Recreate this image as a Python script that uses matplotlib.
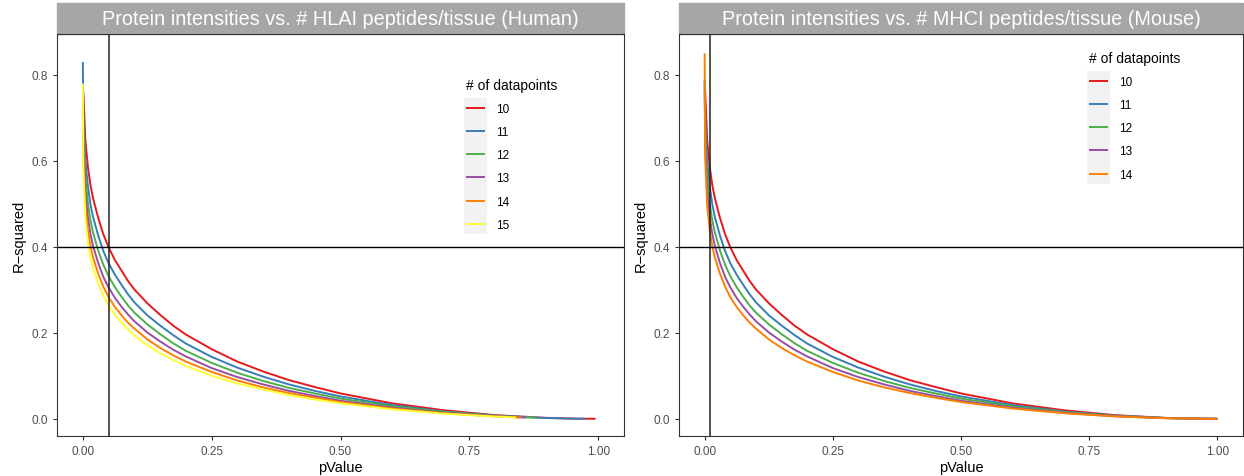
import matplotlib
matplotlib.use("Agg")
import matplotlib.pyplot as plt
from matplotlib.patches import Rectangle

plt.rcParams['font.family'] = ['Liberation Sans', 'DejaVu Sans']

# pValue grid shared by all curves
p_grid = [0.001, 0.005, 0.01, 0.015, 0.02, 0.03, 0.04, 0.05, 0.0625, 0.075, 0.0875,
          0.1, 0.125, 0.15, 0.175, 0.2, 0.25, 0.3, 0.35, 0.4, 0.45, 0.5, 0.6, 0.7,
          0.8, 0.9, 0.95, 1.0]

# R-squared per number of datapoints at p_grid
r2_10 = [0.760, 0.648, 0.585, 0.543, 0.513, 0.467, 0.429, 0.399, 0.369, 0.345, 0.321,
         0.301, 0.269, 0.242, 0.217, 0.196, 0.162, 0.133, 0.110, 0.090, 0.074, 0.059,
         0.036, 0.020, 0.0085, 0.0021, 0.0005, 0.0]
r2_11 = [0.717, 0.602, 0.540, 0.498, 0.469, 0.426, 0.390, 0.362, 0.335, 0.312, 0.290,
         0.271, 0.241, 0.217, 0.195, 0.175, 0.144, 0.119, 0.098, 0.080, 0.065, 0.052,
         0.032, 0.017, 0.0075, 0.0018, 0.0005, 0.0]
r2_12 = [0.677, 0.562, 0.501, 0.461, 0.433, 0.391, 0.358, 0.332, 0.306, 0.284, 0.264,
         0.247, 0.220, 0.197, 0.176, 0.158, 0.130, 0.107, 0.088, 0.072, 0.059, 0.047,
         0.029, 0.016, 0.0067, 0.0017, 0.0004, 0.0]
r2_13 = [0.642, 0.527, 0.468, 0.429, 0.402, 0.362, 0.330, 0.306, 0.281, 0.261, 0.243,
         0.227, 0.201, 0.180, 0.161, 0.145, 0.118, 0.097, 0.080, 0.065, 0.053, 0.042,
         0.026, 0.014, 0.0061, 0.0015, 0.0004, 0.0]
r2_14 = [0.608, 0.495, 0.437, 0.401, 0.375, 0.337, 0.307, 0.283, 0.260, 0.241, 0.224,
         0.210, 0.185, 0.165, 0.148, 0.133, 0.109, 0.089, 0.073, 0.060, 0.049, 0.039,
         0.024, 0.013, 0.0056, 0.0014, 0.0004, 0.0]
r2_15 = [0.578, 0.467, 0.411, 0.375, 0.350, 0.314, 0.286, 0.264, 0.242, 0.224, 0.208,
         0.194, 0.171, 0.153, 0.137, 0.123, 0.100, 0.082, 0.068, 0.055, 0.045, 0.036,
         0.022, 0.012, 0.0051, 0.0013, 0.0004, 0.0]
r2_all = {10: r2_10, 11: r2_11, 12: r2_12, 13: r2_13, 14: r2_14, 15: r2_15}

# first (smallest p) point and last (largest p) point of each curve
human_top = {10: (0.001, 0.76), 11: (0.0001, 0.83), 12: (0.0003, 0.74),
             13: (0.0002, 0.72), 14: (0.0001, 0.72), 15: (0.00002, 0.78)}
human_end = {10: (0.995, 0.0), 11: (0.975, 0.0001), 12: (0.88, 0.0025),
             13: (0.86, 0.0029), 14: (0.85, 0.003), 15: (0.84, 0.0032)}
mouse_top = {10: (0.001, 0.76), 11: (0.0003, 0.78), 12: (0.0002, 0.76),
             13: (0.00005, 0.79), 14: (0.000005, 0.85)}
mouse_end = {10: (1.0, 0.0), 11: (1.0, 0.0), 12: (1.0, 0.0), 13: (1.0, 0.0),
             14: (1.0, 0.0)}

colors = {10: '#E41A1C', 11: '#377EB8', 12: '#4DAF4A', 13: '#984EA3',
          14: '#FF7F00', 15: '#FFFF33'}

titles = ['Protein intensities vs. # HLAI peptides/tissue (Human)',
          'Protein intensities vs. # MHCI peptides/tissue (Mouse)']
p_cut = [0.05, 0.01]
r2_cut = 0.4


def curve(n, top, end):
    xs = [top[0]]
    ys = [top[1]]
    for p, r in zip(p_grid, r2_all[n]):
        if top[0] < p < end[0]:
            xs.append(p)
            ys.append(r)
    xs.append(end[0])
    ys.append(end[1])
    return xs, ys


fig = plt.figure(figsize=(12.44, 4.77), dpi=100)
ax1 = fig.add_axes([57 / 1244, 1 - 437 / 477, (624 - 57) / 1244, (437 - 35) / 477])
ax2 = fig.add_axes([679 / 1244, 1 - 437 / 477, (1243 - 679) / 1244, (437 - 35) / 477])

panels = [(ax1, human_top, human_end), (ax2, mouse_top, mouse_end)]
for i, (ax, tops, ends) in enumerate(panels):
    for n in tops:
        xs, ys = curve(n, tops[n], ends[n])
        ax.plot(xs, ys, color=colors[n], lw=1.4, label=str(n), solid_capstyle='butt')
    ax.axvline(p_cut[i], color='#222222', lw=1.1)
    ax.axhline(r2_cut, color='black', lw=1.0)
    ax.set_xlim(-0.05, 1.05)
    ax.set_ylim(-0.04, 0.895)
    ax.set_xticks([0, 0.25, 0.5, 0.75, 1.0])
    ax.set_xticklabels(['0.00', '0.25', '0.50', '0.75', '1.00'])
    ax.set_yticks([0, 0.2, 0.4, 0.6, 0.8])
    ax.set_yticklabels(['0.0', '0.2', '0.4', '0.6', '0.8'])
    ax.tick_params(colors='#333333', labelcolor='#4D4D4D', labelsize=8.5, length=3, width=0.8)
    for s in ax.spines.values():
        s.set_color('#333333')
        s.set_linewidth(0.8)
    ax.set_xlabel('pValue', fontsize=10.5, labelpad=2)
    ax.set_ylabel('R\u2212squared', fontsize=10.5, labelpad=4)
    # grey strip with title
    ax.text(0.5, 1.0 + 15 / 402, titles[i], transform=ax.transAxes, ha='center', va='center',
            color='white', fontsize=14.3)
    ax.add_patch(Rectangle((0, 1.0), 1, 31 / 402, transform=ax.transAxes, fc='#A6A6A6',
                           ec='#A6A6A6', clip_on=False, zorder=0))

leg_pos = [(455 - 57) / 567, (1078 - 679) / 564]
leg_top = [(437 - 68) / 402, (437 - 41) / 402]
for i, ax in enumerate([ax1, ax2]):
    leg = ax.legend(title='# of datapoints', loc='upper left',
                    bbox_to_anchor=(leg_pos[i], leg_top[i]), frameon=False,
                    fontsize=8.5, title_fontsize=10, handlelength=1.6,
                    labelspacing=0.95, handletextpad=1.0, borderpad=0.4)
    leg._legend_box.align = 'left'

fig.canvas.draw()
# grey key background behind the legend keys
for ax in [ax1, ax2]:
    leg = ax.get_legend()
    bbs = [h.get_window_extent() for h in leg.legend_handles]
    x0 = min(b.x0 for b in bbs) - 2
    x1 = max(b.x1 for b in bbs) + 2
    y0 = min(b.y0 for b in bbs) - 10
    y1 = max(b.y1 for b in bbs) + 10
    inv = ax.transAxes.inverted()
    (bx0, by0), (bx1, by1) = inv.transform([(x0, y0), (x1, y1)])
    ax.add_patch(Rectangle((bx0, by0), bx1 - bx0, by1 - by0, transform=ax.transAxes,
                           fc='#F2F2F2', ec='none', zorder=4))
    leg.set_zorder(5)

fig.savefig('out.png', dpi=100)
